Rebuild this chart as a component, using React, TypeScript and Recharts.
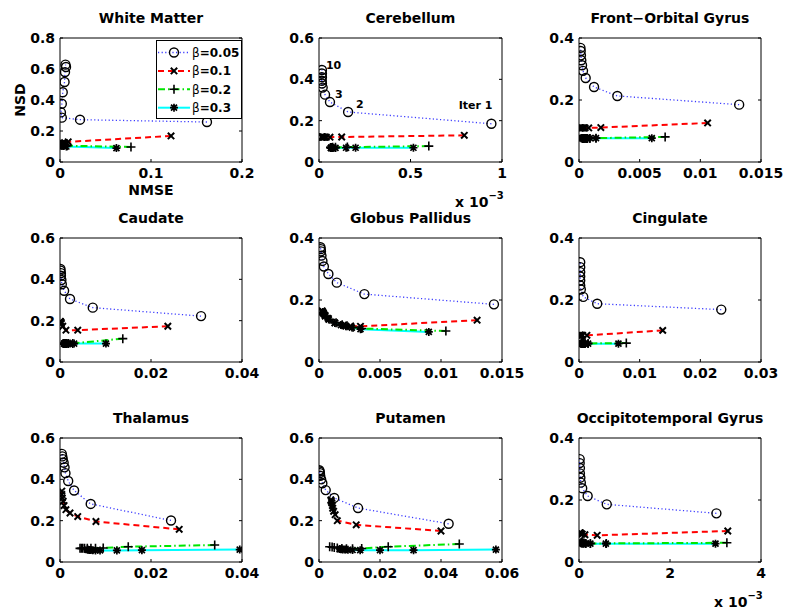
import React from 'react';
import { ScatterChart, Scatter, XAxis, YAxis, Legend } from 'recharts';

type P = [number, number];

// ---- Data: [NMSE, NSD] per iteration (Iter 1 ... Iter 10) ----
// White Matter
const WM_005: P[] = [[0.1615, 0.258], [0.022, 0.273], [0.002, 0.286], [0.001, 0.32], [0.002, 0.376], [0.003, 0.45], [0.005, 0.516], [0.0055, 0.58], [0.0066, 0.613], [0.006, 0.628]];
const WM_01: P[] = [[0.122, 0.168], [0.009, 0.13], [0.005, 0.125], [0.003, 0.12], [0.002, 0.118], [0.002, 0.117], [0.001, 0.115], [0.001, 0.114], [0.001, 0.113], [0.001, 0.112]];
const WM_02: P[] = [[0.078, 0.097], [0.008, 0.105], [0.004, 0.108], [0.003, 0.11], [0.002, 0.11], [0.002, 0.111], [0.001, 0.111], [0.001, 0.112], [0.001, 0.112], [0.001, 0.112]];
const WM_03: P[] = [[0.062, 0.09], [0.007, 0.1], [0.004, 0.104], [0.003, 0.106], [0.002, 0.108], [0.002, 0.109], [0.001, 0.11], [0.001, 0.11], [0.001, 0.111], [0.001, 0.111]];
// Cerebellum (NMSE in units of 1e-3)
const CB_005: P[] = [[0.942, 0.185], [0.159, 0.242], [0.06, 0.29], [0.033, 0.326], [0.02, 0.36], [0.016, 0.38], [0.015, 0.393], [0.016, 0.41], [0.016, 0.428], [0.016, 0.445]];
const CB_01: P[] = [[0.794, 0.129], [0.124, 0.121], [0.06, 0.12], [0.04, 0.12], [0.03, 0.12], [0.025, 0.12], [0.02, 0.121], [0.018, 0.121], [0.016, 0.121], [0.015, 0.121]];
const CB_02: P[] = [[0.6, 0.077], [0.155, 0.072], [0.09, 0.071], [0.075, 0.071], [0.07, 0.07], [0.068, 0.07], [0.066, 0.07], [0.065, 0.07], [0.064, 0.07], [0.063, 0.07]];
const CB_03: P[] = [[0.516, 0.069], [0.2, 0.069], [0.148, 0.069], [0.09, 0.068], [0.075, 0.068], [0.07, 0.068], [0.068, 0.068], [0.067, 0.068], [0.066, 0.068], [0.065, 0.068]];
const CB_ITER_LABELS = ['Iter 1', '2', '3', '', '', '', '', '', '', '10'];
// Front-Orbital Gyrus
const FO_005: P[] = [[0.0132, 0.185], [0.00316, 0.213], [0.00124, 0.242], [0.00055, 0.271], [0.00033, 0.294], [0.00025, 0.312], [0.00019, 0.328], [0.00016, 0.344], [0.00014, 0.358], [0.00012, 0.368]];
const FO_01: P[] = [[0.0106, 0.126], [0.0018, 0.111], [0.0008, 0.11], [0.0005, 0.11], [0.0004, 0.11], [0.0003, 0.11], [0.0002, 0.11], [0.0002, 0.11], [0.0001, 0.11], [0.0001, 0.11]];
const FO_02: P[] = [[0.0071, 0.081], [0.0014, 0.077], [0.0009, 0.076], [0.0007, 0.076], [0.0006, 0.076], [0.0005, 0.076], [0.0004, 0.076], [0.0004, 0.076], [0.0003, 0.076], [0.0003, 0.076]];
const FO_03: P[] = [[0.006, 0.077], [0.0014, 0.077], [0.0009, 0.077], [0.0006, 0.077], [0.0005, 0.077], [0.0004, 0.077], [0.0003, 0.077], [0.0003, 0.077], [0.0002, 0.077], [0.0002, 0.077]];
// Caudate
const CA_005: P[] = [[0.031, 0.222], [0.0072, 0.263], [0.0022, 0.305], [0.0009, 0.345], [0.0004, 0.376], [0.0003, 0.397], [0.0002, 0.417], [0.0002, 0.43], [0.0001, 0.442], [0.0001, 0.45]];
const CA_01: P[] = [[0.0237, 0.173], [0.0039, 0.154], [0.0013, 0.154], [0.0006, 0.173], [0.0003, 0.186], [0.0002, 0.19], [0.0002, 0.192], [0.0001, 0.194], [0.0001, 0.195], [0.0001, 0.196]];
const CA_02: P[] = [[0.0138, 0.113], [0.0028, 0.09], [0.0018, 0.089], [0.0014, 0.089], [0.0012, 0.089], [0.001, 0.089], [0.0009, 0.089], [0.0008, 0.089], [0.0008, 0.089], [0.0007, 0.089]];
const CA_03: P[] = [[0.0101, 0.089], [0.0031, 0.089], [0.0022, 0.089], [0.0017, 0.089], [0.0014, 0.089], [0.0012, 0.089], [0.0011, 0.089], [0.001, 0.089], [0.0009, 0.089], [0.0009, 0.089]];
// Globus Pallidus
const GP_005: P[] = [[0.01434, 0.186], [0.00372, 0.219], [0.00146, 0.256], [0.00077, 0.284], [0.0004, 0.308], [0.00028, 0.326], [0.0002, 0.343], [0.00016, 0.357], [0.00014, 0.364], [0.00012, 0.37]];
const GP_01: P[] = [[0.01296, 0.135], [0.0034, 0.115], [0.0026, 0.116], [0.002, 0.119], [0.0013, 0.126], [0.00077, 0.14], [0.0005, 0.15], [0.00036, 0.158], [0.0003, 0.162], [0.00025, 0.165]];
const GP_02: P[] = [[0.0104, 0.1], [0.0035, 0.108], [0.0028, 0.112], [0.0023, 0.117], [0.0019, 0.12], [0.0014, 0.127], [0.0009, 0.138], [0.0006, 0.148], [0.0004, 0.155], [0.0003, 0.16]];
const GP_03: P[] = [[0.009, 0.097], [0.0034, 0.106], [0.0027, 0.111], [0.0022, 0.115], [0.0018, 0.119], [0.0013, 0.126], [0.0008, 0.137], [0.0005, 0.147], [0.0004, 0.154], [0.0003, 0.159]];
// Cingulate
const CI_005: P[] = [[0.02345, 0.169], [0.003, 0.188], [0.0007, 0.21], [0.0003, 0.234], [0.0002, 0.247], [0.0002, 0.263], [0.0002, 0.276], [0.0002, 0.29], [0.0002, 0.306], [0.0002, 0.322]];
const CI_01: P[] = [[0.0138, 0.102], [0.0013, 0.086], [0.0006, 0.086], [0.0004, 0.086], [0.0003, 0.086], [0.0002, 0.086], [0.0002, 0.086], [0.0001, 0.086], [0.0001, 0.086], [0.0001, 0.086]];
const CI_02: P[] = [[0.0078, 0.061], [0.0015, 0.06], [0.001, 0.06], [0.0008, 0.06], [0.0007, 0.06], [0.0006, 0.06], [0.0005, 0.06], [0.0005, 0.06], [0.0004, 0.06], [0.0004, 0.06]];
const CI_03: P[] = [[0.0065, 0.059], [0.0015, 0.059], [0.001, 0.059], [0.0008, 0.059], [0.0006, 0.059], [0.0005, 0.059], [0.0005, 0.059], [0.0004, 0.059], [0.0004, 0.059], [0.0004, 0.059]];
// Thalamus
const TH_005: P[] = [[0.0244, 0.201], [0.00675, 0.281], [0.0031, 0.346], [0.0018, 0.392], [0.0012, 0.43], [0.001, 0.458], [0.0008, 0.48], [0.0006, 0.498], [0.0005, 0.511], [0.0004, 0.523]];
const TH_01: P[] = [[0.0262, 0.158], [0.0079, 0.196], [0.0039, 0.22], [0.0022, 0.237], [0.0013, 0.253], [0.0009, 0.273], [0.0007, 0.294], [0.0005, 0.31], [0.0004, 0.327], [0.0004, 0.343]];
const TH_02: P[] = [[0.034, 0.082], [0.015, 0.074], [0.0095, 0.068], [0.0078, 0.066], [0.0068, 0.066], [0.006, 0.066], [0.0054, 0.066], [0.005, 0.066], [0.0047, 0.066], [0.0044, 0.066]];
const TH_03: P[] = [[0.0395, 0.06], [0.018, 0.057], [0.0125, 0.056], [0.0088, 0.056], [0.0078, 0.056], [0.0072, 0.057], [0.0068, 0.058], [0.0065, 0.058], [0.0062, 0.059], [0.006, 0.06]];
// Putamen
const PU_005: P[] = [[0.0425, 0.185], [0.0128, 0.261], [0.005, 0.31], [0.0022, 0.348], [0.0011, 0.381], [0.0007, 0.4], [0.0004, 0.417], [0.0003, 0.43], [0.0002, 0.438], [0.0001, 0.444]];
const PU_01: P[] = [[0.04, 0.15], [0.0122, 0.18], [0.006, 0.2], [0.0053, 0.229], [0.0048, 0.245], [0.0045, 0.26], [0.0044, 0.273], [0.0042, 0.286], [0.004, 0.294], [0.0039, 0.3]];
const PU_02: P[] = [[0.046, 0.087], [0.0227, 0.074], [0.014, 0.065], [0.011, 0.064], [0.009, 0.064], [0.0075, 0.065], [0.006, 0.068], [0.005, 0.07], [0.0043, 0.072], [0.0035, 0.074]];
const PU_03: P[] = [[0.058, 0.06], [0.031, 0.057], [0.02, 0.057], [0.0135, 0.057], [0.011, 0.058], [0.0095, 0.059], [0.0085, 0.06], [0.0078, 0.061], [0.0072, 0.062], [0.0068, 0.063]];
// Occipitotemporal Gyrus (NMSE in units of 1e-3)
const OT_005: P[] = [[3.02, 0.157], [0.61, 0.186], [0.19, 0.213], [0.07, 0.238], [0.04, 0.256], [0.03, 0.272], [0.02, 0.286], [0.02, 0.303], [0.015, 0.319], [0.015, 0.332]];
const OT_01: P[] = [[3.27, 0.1], [0.4, 0.086], [0.13, 0.088], [0.07, 0.09], [0.05, 0.091], [0.04, 0.092], [0.03, 0.093], [0.03, 0.093], [0.02, 0.094], [0.02, 0.094]];
const OT_02: P[] = [[3.25, 0.062], [0.6, 0.06], [0.25, 0.06], [0.15, 0.06], [0.11, 0.061], [0.09, 0.061], [0.07, 0.061], [0.06, 0.062], [0.05, 0.062], [0.05, 0.062]];
const OT_03: P[] = [[3.0, 0.059], [0.59, 0.059], [0.25, 0.059], [0.15, 0.06], [0.1, 0.06], [0.08, 0.061], [0.07, 0.061], [0.06, 0.062], [0.05, 0.062], [0.05, 0.062]];

// ---- Tick labels ----
const Y_T6 = [0, 0.2, 0.4, 0.6];
const Y_T8 = [0, 0.2, 0.4, 0.6, 0.8];
const Y_T4 = [0, 0.2, 0.4];
const X_WM = [0, 0.1, 0.2];
const X_CB = [0, 0.5, 1];
const X_015 = [0, 0.005, 0.01, 0.015];
const X_04 = [0, 0.02, 0.04];
const X_03 = [0, 0.01, 0.02, 0.03];
const X_06 = [0, 0.02, 0.04, 0.06];
const X_OT = [0, 2, 4];

const BETA_LABELS = ['0.05', '0.1', '0.2', '0.3'];

// ---- Styles ----
const FONT = "'DejaVu Sans', 'Liberation Sans', Arial, sans-serif";
const LINE_STYLES: any[] = [
  { stroke: '#3a3aff', strokeWidth: 1.3, strokeDasharray: '1.2 2.4' },
  { stroke: '#ff0000', strokeWidth: 2, strokeDasharray: '6 4' },
  { stroke: '#00e600', strokeWidth: 2, strokeDasharray: '7 3 1.5 3' },
  { stroke: '#00ffff', strokeWidth: 2 },
];
const COL_LEFT = [60, 319, 579];
const COL_W = [182, 183, 182];
const ROW_TOP = [38, 238, 438];
const PLOT_H = 124;
const TOP_PAD = 16;

const LABEL_OFFSETS: Record<string, { dx: number; dy: number; anchor: string }> = {
  'Iter 1': { dx: 1, dy: -15, anchor: 'end' },
  '2': { dx: 8, dy: -4, anchor: 'start' },
  '3': { dx: 5, dy: -4, anchor: 'start' },
  '10': { dx: 4, dy: -1, anchor: 'start' },
};

function marker(kind: number, cx: number, cy: number) {
  if (cx == null || cy == null || isNaN(cx) || isNaN(cy)) return <g />;
  if (kind === 0) return <circle cx={cx} cy={cy} r={4.5} fill="none" stroke="#000" strokeWidth={1.4} />;
  if (kind === 1) {
    const s = 3.2;
    return <path d={`M${cx - s},${cy - s}L${cx + s},${cy + s}M${cx - s},${cy + s}L${cx + s},${cy - s}`} stroke="#000" strokeWidth={2} />;
  }
  if (kind === 2) {
    const s = 4.5;
    return <path d={`M${cx - s},${cy}L${cx + s},${cy}M${cx},${cy - s}L${cx},${cy + s}`} stroke="#000" strokeWidth={1.6} />;
  }
  const s = 4, d = 3;
  return (
    <path
      d={`M${cx - s},${cy}L${cx + s},${cy}M${cx},${cy - s}L${cx},${cy + s}M${cx - d},${cy - d}L${cx + d},${cy + d}M${cx - d},${cy + d}L${cx + d},${cy - d}`}
      stroke="#000"
      strokeWidth={1.7}
    />
  );
}

interface PanelCfg {
  title: string;
  series: P[][];
  xTicks: number[];
  yTicks: number[];
  col: number;
  row: number;
  iterLabels?: string[];
  exponent?: boolean;
  first?: boolean;
}

const PANELS: PanelCfg[] = [
  { title: 'White Matter', series: [WM_005, WM_01, WM_02, WM_03], xTicks: X_WM, yTicks: Y_T8, col: 0, row: 0, first: true },
  { title: 'Cerebellum', series: [CB_005, CB_01, CB_02, CB_03], xTicks: X_CB, yTicks: Y_T6, col: 1, row: 0, iterLabels: CB_ITER_LABELS, exponent: true },
  { title: 'Front\u2212Orbital Gyrus', series: [FO_005, FO_01, FO_02, FO_03], xTicks: X_015, yTicks: Y_T4, col: 2, row: 0 },
  { title: 'Caudate', series: [CA_005, CA_01, CA_02, CA_03], xTicks: X_04, yTicks: Y_T6, col: 0, row: 1 },
  { title: 'Globus Pallidus', series: [GP_005, GP_01, GP_02, GP_03], xTicks: X_015, yTicks: Y_T4, col: 1, row: 1 },
  { title: 'Cingulate', series: [CI_005, CI_01, CI_02, CI_03], xTicks: X_03, yTicks: Y_T4, col: 2, row: 1 },
  { title: 'Thalamus', series: [TH_005, TH_01, TH_02, TH_03], xTicks: X_04, yTicks: Y_T6, col: 0, row: 2 },
  { title: 'Putamen', series: [PU_005, PU_01, PU_02, PU_03], xTicks: X_06, yTicks: Y_T6, col: 1, row: 2 },
  { title: 'Occipitotemporal Gyrus', series: [OT_005, OT_01, OT_02, OT_03], xTicks: X_OT, yTicks: Y_T4, col: 2, row: 2, exponent: true },
];

const tickStyle = { fill: '#000', fontSize: 14, fontWeight: 'bold', fontFamily: FONT };

function LegendBox() {
  return (
    <svg width={86} height={79} style={{ display: 'block' }}>
      <rect x={0.5} y={0.5} width={85} height={78} fill="#fff" stroke="#000" strokeWidth={1} />
      {BETA_LABELS.map((b, i) => {
        const y = 12.5 + i * 18.4;
        return (
          <g key={b}>
            <line x1={2} y1={y} x2={34} y2={y} {...LINE_STYLES[i]} />
            {marker(i, 18, y)}
            <text x={36} y={y + 4.5} fontFamily={FONT} fontSize={12} fill="#000">
              <tspan fontWeight="normal">β</tspan>
              <tspan fontWeight="bold">={b}</tspan>
            </text>
          </g>
        );
      })}
    </svg>
  );
}

function Panel({ cfg }: { cfg: PanelCfg }) {
  const pw = COL_W[cfg.col];
  const left = COL_LEFT[cfg.col] - 50;
  const top = ROW_TOP[cfg.row] - TOP_PAD;
  const width = 50 + pw + 1 + 30;
  const height = TOP_PAD + PLOT_H + 40;
  const xMax = cfg.xTicks[cfg.xTicks.length - 1];
  const yMax = cfg.yTicks[cfg.yTicks.length - 1];
  const data = cfg.series.map((s, si) =>
    s.map(([x, y], i) => ({ x, y, label: si === 0 && cfg.iterLabels ? cfg.iterLabels[i] : '' }))
  );
  const lineOrder = [0, 1, 3, 2];
  return (
    <div style={{ position: 'absolute', left, top }}>
      <ScatterChart width={width} height={height} margin={{ top: TOP_PAD - 1, right: 30, bottom: 0, left: 0 }}>
        <XAxis
          xAxisId="b"
          type="number"
          dataKey="x"
          domain={[0, xMax]}
          ticks={cfg.xTicks}
          interval={0}
          allowDataOverflow
          height={40}
          tickSize={-3}
          tickMargin={9}
          axisLine={{ stroke: '#000' }}
          tickLine={{ stroke: '#000' }}
          tick={tickStyle}
          label={cfg.first ? { value: 'NMSE', position: 'insideBottom', offset: 7, fill: '#000', fontSize: 14, fontWeight: 'bold', fontFamily: FONT } : undefined}
        />
        <XAxis
          xAxisId="t"
          orientation="top"
          type="number"
          domain={[0, xMax]}
          ticks={cfg.xTicks}
          interval={0}
          allowDataOverflow
          height={1}
          tickSize={-3}
          tickFormatter={() => ''}
          axisLine={{ stroke: '#000' }}
          tickLine={{ stroke: '#000' }}
        />
        <YAxis
          yAxisId="l"
          type="number"
          dataKey="y"
          domain={[0, yMax]}
          ticks={cfg.yTicks}
          interval={0}
          allowDataOverflow
          width={50}
          tickSize={-3}
          tickMargin={8}
          axisLine={{ stroke: '#000' }}
          tickLine={{ stroke: '#000' }}
          tick={tickStyle}
          label={cfg.first ? { value: 'NSD', angle: -90, position: 'insideLeft', offset: 10, fill: '#000', fontSize: 14, fontWeight: 'bold', fontFamily: FONT, style: { textAnchor: 'middle' } } : undefined}
        />
        <YAxis
          yAxisId="r"
          orientation="right"
          type="number"
          domain={[0, yMax]}
          ticks={cfg.yTicks}
          interval={0}
          allowDataOverflow
          width={1}
          tickSize={-3}
          tickFormatter={() => ''}
          axisLine={{ stroke: '#000' }}
          tickLine={{ stroke: '#000' }}
        />
        {lineOrder.map((si) => (
          <Scatter
            key={`line-${si}`}
            xAxisId="b"
            yAxisId="l"
            data={data[si]}
            line={LINE_STYLES[si]}
            lineType="joint"
            shape={() => <g />}
            isAnimationActive={false}
          />
        ))}
        {[0, 1, 2, 3].map((si) => (
          <Scatter
            key={`mk-${si}`}
            xAxisId="b"
            yAxisId="l"
            data={data[si]}
            isAnimationActive={false}
            shape={(p: any) => {
              const lab = p.payload && p.payload.label;
              const off = lab ? LABEL_OFFSETS[lab] : null;
              return (
                <g>
                  {marker(si, p.cx, p.cy)}
                  {off ? (
                    <text x={p.cx + off.dx} y={p.cy + off.dy} textAnchor={off.anchor as any} fontFamily={FONT} fontWeight="bold" fontSize={11} fill="#000">
                      {lab}
                    </text>
                  ) : null}
                </g>
              );
            }}
          />
        ))}
        {cfg.first ? (
          <Legend
            layout="vertical"
            align="center"
            verticalAlign="middle"
            wrapperStyle={{ left: 146, top: 40 - (ROW_TOP[0] - TOP_PAD), width: 86, height: 79 }}
            content={() => <LegendBox />}
          />
        ) : null}
      </ScatterChart>
    </div>
  );
}

export default function App() {
  return (
    <div style={{ position: 'absolute', left: 0, top: 0, width: 787, height: 616, background: '#fff', overflow: 'hidden' }}>
      {PANELS.map((cfg) => (
        <Panel key={cfg.title} cfg={cfg} />
      ))}
      <svg width={787} height={616} style={{ position: 'absolute', left: 0, top: 0, pointerEvents: 'none' }}>
        {PANELS.map((cfg) => {
          const cx = COL_LEFT[cfg.col] + COL_W[cfg.col] / 2;
          const py = ROW_TOP[cfg.row];
          return (
            <g key={cfg.title}>
              <text x={cx} y={py - 15} textAnchor="middle" fontFamily={FONT} fontWeight="bold" fontSize={14} fill="#000">
                {cfg.title}
              </text>
              {cfg.exponent ? (
                <text x={COL_LEFT[cfg.col] + COL_W[cfg.col] - 47} y={py + PLOT_H + 45} fontFamily={FONT} fontWeight="bold" fontSize={14} fill="#000">
                  x 10
                  <tspan fontSize={10} dy={-8}>{'\u22123'}</tspan>
                </text>
              ) : null}
            </g>
          );
        })}
      </svg>
    </div>
  );
}
